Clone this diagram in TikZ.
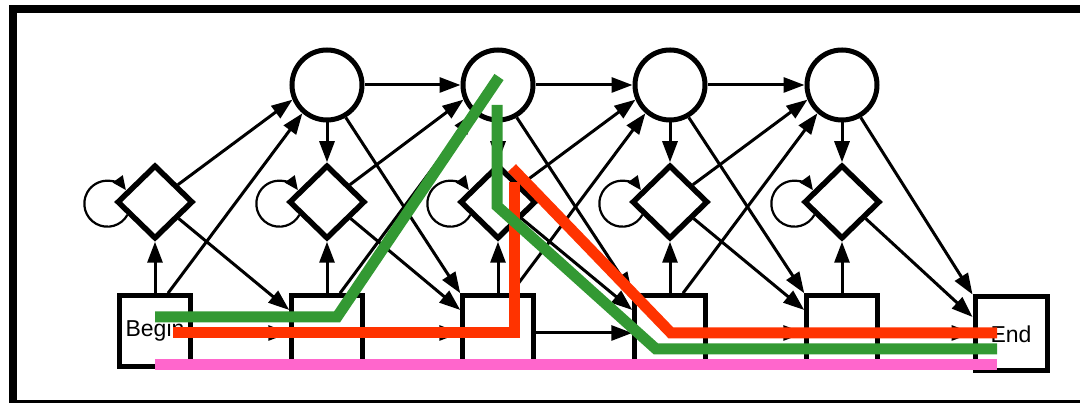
\documentclass[tikz,border=0pt]{standalone}
\usepackage{fontspec}
\setmainfont{Liberation Sans}
\usetikzlibrary{arrows.meta,shapes.geometric}
\definecolor{pgreen}{RGB}{51,153,51}
\definecolor{pred}{RGB}{255,51,0}
\definecolor{ppink}{RGB}{255,102,204}
\begin{document}
\begin{tikzpicture}[x=1pt,y=1pt,
  circ/.style={circle,draw,line width=5pt,minimum size=70pt,inner sep=0pt,fill=white},
  dia/.style={diamond,draw,line width=5.5pt,minimum width=76pt,minimum height=74pt,inner sep=0pt,fill=white},
  sq/.style={rectangle,draw,line width=4.5pt,minimum size=71pt,inner sep=0pt,fill=white,font=\fontsize{23}{27}\selectfont},
  arr/.style={line width=3pt,-{Triangle[length=21pt,width=15pt]}},
  loopy/.style={line width=2.2pt,-{Triangle[length=14pt,width=12pt]}},
  hl/.style={line width=11pt,line join=miter}
]
\useasboundingbox (0,0) rectangle (1080,403);
\clip (0,0) rectangle (1080,403);
% frame
\draw[line width=8pt] (1090,394) -- (13,394) -- (13,-1) -- (1090,-1);
% nodes
\foreach \i/\x in {1/327,2/498,3/670,4/842}
  \node[circ] (C\i) at (\x,318) {};
\foreach \i/\x in {0/155,1/327,2/498,3/670,4/842}
  \node[dia] (D\i) at (\x,201) {};
\node[sq] (S0) at (155,72) {Begin};
\foreach \i/\x in {1/327,2/498,3/670,4/842}
  \node[sq] (S\i) at (\x,72) {};
\node[sq,line width=5pt,minimum width=72pt,minimum height=74pt] (E) at (1011,69) {End};
% edges column k -> k+1
\foreach \k [evaluate=\k as \n using int(\k+1)] in {0,...,3}{
  \draw[arr] (D\k.37) -- (C\n.203);
  \draw[arr] ([xshift=13pt]S\k.north) -- (C\n.229);
  \draw[arr] (D\k.-35) -- ([yshift=21pt]S\n.west);
  \draw[arr] ([yshift=-2pt]S\k.east) -- ([yshift=-2pt]S\n.west);
}
\foreach \k [evaluate=\k as \n using int(\k+1)] in {1,...,3}{
  \draw[arr] (C\k.east) -- (C\n.west);
  \draw[arr] (C\k.-60) -- (S\n.north west);
}
\foreach \k in {1,...,4}
  \draw[arr] (C\k.south) -- (D\k.north);
\foreach \k in {0,...,4}{
  \draw[arr] (S\k.north) -- (D\k.south);
  \draw[loopy] (D\k.205) arc[start angle=-29,end angle=-324,radius=23];
}
\draw[arr] (D4.-35) -- ([yshift=17pt]E.west);
\draw[arr] (C4.-60) -- (E.north west);
\draw[arr] ([yshift=-2pt]S4.east) -- ([yshift=1pt]E.west);
% highlighted paths
\draw[hl,ppink] (155,38) -- (997,38);
\draw[hl,pred] (173,70) -- (514,70) -- (514,221);
\draw[hl,pred] (512,235) -- (671,70) -- (997,70);
\draw[hl,pgreen] (155,86) -- (337,86) -- (499,326);
\draw[hl,pgreen] (497,298) -- (497,197) -- (656,54) -- (997,54);
\end{tikzpicture}
\end{document}
